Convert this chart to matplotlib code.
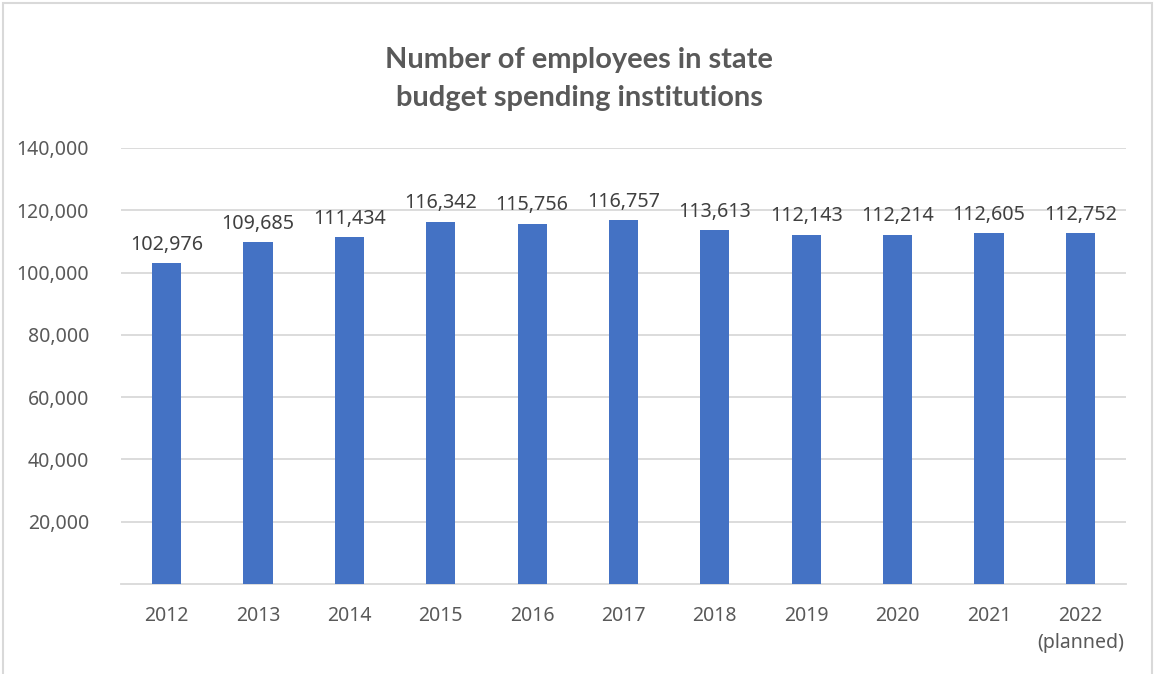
import matplotlib
matplotlib.use("Agg")
import matplotlib.pyplot as plt
from matplotlib.patches import Rectangle
from matplotlib.ticker import FuncFormatter

# staff headcount per year (2022 = plan)
years = ["2012", "2013", "2014", "2015", "2016", "2017", "2018", "2019", "2020", "2021", "2022\n(planned)"]
employees = [102976, 109685, 111434, 116342, 115756, 116757, 113613, 112143, 112214, 112605, 112752]
y_ticks = [20000, 40000, 60000, 80000, 100000, 120000, 140000]

BLUE = "#4472C4"; GRID = "#d9d9d9"; TXT = "#595959"; LBL = "#404040"
plt.rcParams["font.family"] = ["Noto Sans", "DejaVu Sans"]

fig = plt.figure(figsize=(11.55, 6.74), dpi=100)
ax = fig.add_axes([121/1155, 1 - 584/674, (1126 - 121)/1155, (584 - 148)/674])

x = range(len(years))
bars = ax.bar(x, employees, width=0.32, color=BLUE, zorder=3)
for b, v in zip(bars, employees):
    ax.annotate(f"{v:,}", (b.get_x() + b.get_width()/2, v), xytext=(0, 6),
                textcoords="offset points", ha="center", va="bottom",
                fontsize=14.2, color=LBL, zorder=4)

ax.set_xlim(-0.5, len(years) - 0.5)
ax.set_ylim(0, 140000)
ax.set_yticks(y_ticks)
ax.yaxis.set_major_formatter(FuncFormatter(lambda v, _: f"{v:,.0f}"))
ax.set_xticks(list(x))
ax.set_xticklabels(years, linespacing=1.45, va="top")
ax.tick_params(axis="y", length=0, pad=23, labelsize=14, labelcolor=TXT)
ax.tick_params(axis="x", length=0, pad=16, labelsize=14, labelcolor=TXT)
ax.grid(axis="y", color=GRID, lw=1.3, zorder=0)
for s in ("left", "right", "top"):
    ax.spines[s].set_visible(False)
ax.spines["bottom"].set_color(GRID)
ax.spines["bottom"].set_linewidth(1.3)

fig.text(579/1155, 1 - 79/674, "Number of employees in state\nbudget spending institutions",
         ha="center", va="center", fontsize=20.9, fontweight="bold", color=TXT,
         family=["Lato", "DejaVu Sans"], linespacing=1.6)

# light outer frame
fig.patches.append(Rectangle((2.5/1155, -0.05), (1152 - 2.5)/1155, 1.05 - 3/674,
                             transform=fig.transFigure, fill=False, ec=GRID, lw=1.5))

fig.savefig("out.png", dpi=100)
